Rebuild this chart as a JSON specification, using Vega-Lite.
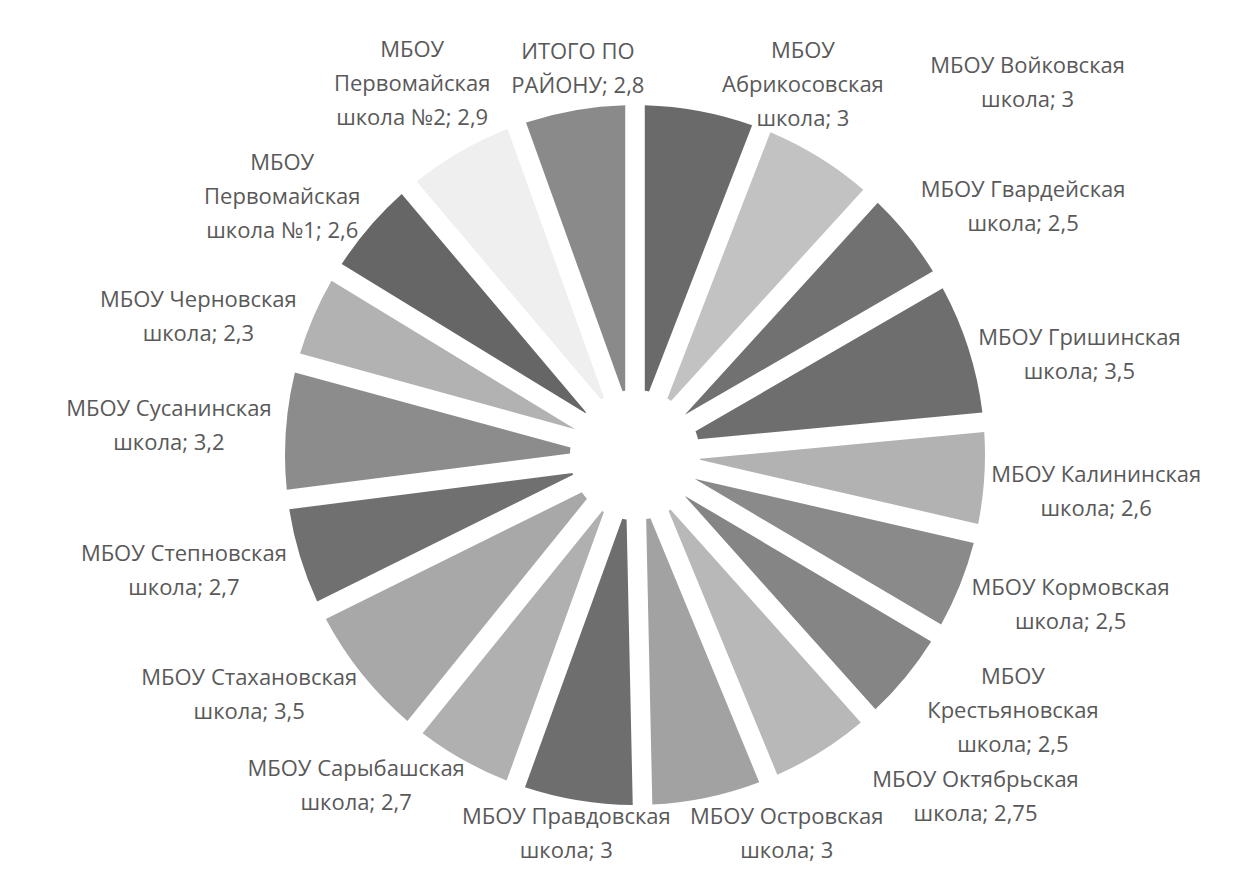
{
  "$schema": "https://vega.github.io/schema/vega-lite/v6.json",
  "autosize": {"type": "fit", "contains": "padding"},
  "width": 1250,
  "height": 869,
  "padding": {"left": 20, "top": 15, "right": 0, "bottom": 0},
  "background": "white",
  "config": {
    "view": {"stroke": null},
    "text": {"font": "Open Sans", "fontSize": 22, "fill": "#595959", "lineHeight": 34, "align": "center", "baseline": "middle", "lineBreak": "\n"}
  },
  "data": {
    "values": [
      {"order": 1, "name": "Абрикосовская", "value": 3, "label": "МБОУ\nАбрикосовская\nшкола; 3"},
      {"order": 2, "name": "Войковская", "value": 3, "label": "МБОУ Войковская\nшкола; 3"},
      {"order": 3, "name": "Гвардейская", "value": 2.5, "label": "МБОУ Гвардейская\nшкола; 2,5"},
      {"order": 4, "name": "Гришинская", "value": 3.5, "label": "МБОУ Гришинская\nшкола; 3,5"},
      {"order": 5, "name": "Калининская", "value": 2.6, "label": "МБОУ Калининская\nшкола; 2,6"},
      {"order": 6, "name": "Кормовская", "value": 2.5, "label": "МБОУ Кормовская\nшкола; 2,5"},
      {"order": 7, "name": "Крестьяновская", "value": 2.5, "label": "МБОУ\nКрестьяновская\nшкола; 2,5"},
      {"order": 8, "name": "Октябрьская", "value": 2.75, "label": "МБОУ Октябрьская\nшкола; 2,75"},
      {"order": 9, "name": "Островская", "value": 3, "label": "МБОУ Островская\nшкола; 3"},
      {"order": 10, "name": "Правдовская", "value": 3, "label": "МБОУ Правдовская\nшкола; 3"},
      {"order": 11, "name": "Сарыбашская", "value": 2.7, "label": "МБОУ Сарыбашская\nшкола; 2,7"},
      {"order": 12, "name": "Стахановская", "value": 3.5, "label": "МБОУ Стахановская\nшкола; 3,5"},
      {"order": 13, "name": "Степновская", "value": 2.7, "label": "МБОУ Степновская\nшкола; 2,7"},
      {"order": 14, "name": "Сусанинская", "value": 3.2, "label": "МБОУ Сусанинская\nшкола; 3,2"},
      {"order": 15, "name": "Черновская", "value": 2.3, "label": "МБОУ Черновская\nшкола; 2,3"},
      {"order": 16, "name": "Первомайская №1", "value": 2.6, "label": "МБОУ\nПервомайская\nшкола №1; 2,6"},
      {"order": 17, "name": "Первомайская №2", "value": 2.9, "label": "МБОУ\nПервомайская\nшкола №2; 2,9"},
      {"order": 18, "name": "ИТОГО ПО РАЙОНУ", "value": 2.8, "label": "ИТОГО ПО\nРАЙОНУ; 2,8"}
    ]
  },
  "encoding": {
    "theta": {"field": "value", "type": "quantitative", "stack": true},
    "order": {"field": "order", "type": "quantitative"}
  },
  "layer": [
    {
      "mark": {"type": "arc", "outerRadius": 350, "innerRadius": 65, "padAngle": 0.055},
      "encoding": {
        "color": {
          "field": "name",
          "type": "nominal",
          "legend": null,
          "scale": {
            "domain": ["Абрикосовская", "Войковская", "Гвардейская", "Гришинская", "Калининская", "Кормовская", "Крестьяновская", "Октябрьская", "Островская", "Правдовская", "Сарыбашская", "Стахановская", "Степновская", "Сусанинская", "Черновская", "Первомайская №1", "Первомайская №2", "ИТОГО ПО РАЙОНУ"],
            "range": ["#6a6a6a", "#c2c2c2", "#717171", "#6e6e6e", "#b2b2b2", "#8a8a8a", "#858585", "#b8b8b8", "#a2a2a2", "#6e6e6e", "#b0b0b0", "#a8a8a8", "#707070", "#8c8c8c", "#b2b2b2", "#666666", "#efefef", "#8a8a8a"]
          }
        }
      }
    },
    {
      "mark": {"type": "text", "radius": 370, "dx": 92, "dy": -4},
      "encoding": {"text": {"condition": {"test": "indexof([4,5,6], datum.order) >= 0", "field": "label"}, "value": ""}}
    },
    {
      "mark": {"type": "text", "radius": 370, "dx": 92, "dy": -13},
      "encoding": {"text": {"condition": {"test": "datum.order == 7", "field": "label"}, "value": ""}}
    },
    {
      "mark": {"type": "text", "radius": 370, "dx": 76, "dy": 0},
      "encoding": {"text": {"condition": {"test": "datum.order == 9", "field": "label"}, "value": ""}}
    },
    {
      "mark": {"type": "text", "radius": 370, "dx": 100, "dy": -40},
      "encoding": {"text": {"condition": {"test": "datum.order == 1", "field": "label"}, "value": ""}}
    },
    {
      "mark": {"type": "text", "radius": 370, "dx": 100, "dy": -33},
      "encoding": {"text": {"condition": {"test": "datum.order == 3", "field": "label"}, "value": ""}}
    },
    {
      "mark": {"type": "text", "radius": 370, "dx": 198, "dy": -74},
      "encoding": {"text": {"condition": {"test": "datum.order == 2", "field": "label"}, "value": ""}}
    },
    {
      "mark": {"type": "text", "radius": 370, "dx": 144, "dy": 12},
      "encoding": {"text": {"condition": {"test": "datum.order == 8", "field": "label"}, "value": ""}}
    },
    {
      "mark": {"type": "text", "radius": 370, "dx": -97, "dy": -8},
      "encoding": {"text": {"condition": {"test": "indexof([11,12,13,15], datum.order) >= 0", "field": "label"}, "value": ""}}
    },
    {
      "mark": {"type": "text", "radius": 370, "dx": -97, "dy": -20},
      "encoding": {"text": {"condition": {"test": "datum.order == 14", "field": "label"}, "value": ""}}
    },
    {
      "mark": {"type": "text", "radius": 370, "dx": -72, "dy": -51},
      "encoding": {"text": {"condition": {"test": "datum.order == 16", "field": "label"}, "value": ""}}
    },
    {
      "mark": {"type": "text", "radius": 370, "dx": -38, "dy": -84},
      "encoding": {"text": {"condition": {"test": "datum.order == 17", "field": "label"}, "value": ""}}
    },
    {
      "mark": {"type": "text", "radius": 380, "dx": 8, "dy": -29},
      "encoding": {"text": {"condition": {"test": "datum.order == 18", "field": "label"}, "value": ""}}
    },
    {
      "mark": {"type": "text", "radius": 380, "dx": -7, "dy": -13},
      "encoding": {"text": {"condition": {"test": "datum.order == 10", "field": "label"}, "value": ""}}
    }
  ]
}
